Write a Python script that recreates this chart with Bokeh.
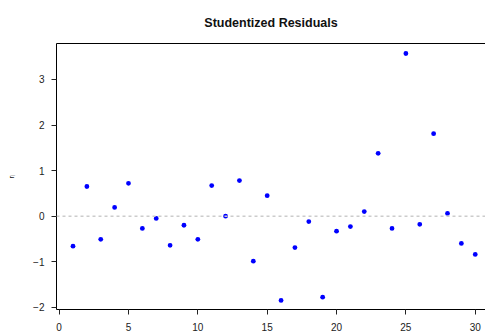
from bokeh.plotting import figure
from bokeh.models import Range1d, LinearAxis, FixedTicker, Span
from bokeh.embed import file_html
from bokeh.resources import INLINE

obs = list(range(1, 31))
resid = [-0.66, 0.65, -0.51, 0.19, 0.72, -0.27, -0.05, -0.64, -0.20, -0.51,
         0.67, 0.00, 0.78, -0.99, 0.45, -1.85, -0.69, -0.12, -1.78, -0.33,
         -0.23, 0.10, 1.38, -0.27, 3.57, -0.18, 1.81, 0.06, -0.60, -0.84]
x_ticks = [0, 5, 10, 15, 20, 25, 30]
y_ticks = [-2, -1, 0, 1, 2, 3]

FONT = "Liberation Sans"

p = figure(width=485, height=333, output_backend="svg", toolbar_location=None,
           x_range=Range1d(-0.19, 30.74), y_range=Range1d(-2.05, 3.79),
           x_axis_type=None, y_axis_type=None,
           min_border_left=56, min_border_right=0, min_border_top=43, min_border_bottom=24)
p.outline_line_color = None
p.xgrid.visible = False
p.ygrid.visible = False
p.background_fill_color = "white"
p.border_fill_color = "white"

p.title.text = "Studentized Residuals"
p.title.align = "center"
p.title.vertical_align = "top"
p.title.text_font = FONT
p.title.text_font_size = "12.5px"
p.title.text_font_style = "bold"
p.title.text_color = "#111111"
p.title.offset = 0
p.title.standoff = 23

def style_axis(ax):
    ax.axis_line_color = "black"
    ax.axis_line_width = 1
    ax.major_tick_line_color = "#222222"
    ax.major_tick_out = 5
    ax.major_tick_in = 0
    ax.minor_tick_line_color = None
    ax.major_label_text_font = FONT
    ax.major_label_text_font_size = "10px"
    ax.major_label_text_color = "#222222"

xax = LinearAxis(ticker=FixedTicker(ticks=x_ticks))
style_axis(xax)
xax.major_label_standoff = 8
p.add_layout(xax, "below")

yax = LinearAxis(ticker=FixedTicker(ticks=y_ticks))
style_axis(yax)
yax.major_label_orientation = "horizontal"
yax.major_label_standoff = 7
yax.axis_label = "rᵢ"
yax.axis_label_text_font = FONT
yax.axis_label_text_font_size = "8px"
yax.axis_label_text_font_style = "normal"
yax.axis_label_text_color = "#222222"
yax.axis_label_standoff = 14
p.add_layout(yax, "left")

top = LinearAxis(ticker=FixedTicker(ticks=[]))
top.axis_line_color = "black"
top.major_label_text_font_size = "0px"
top.major_label_standoff = 0
top.major_tick_out = 0
top.major_tick_in = 0
top.major_tick_line_color = None
top.minor_tick_line_color = None
p.add_layout(top, "above")

p.add_layout(Span(location=0, dimension="width", line_color="#cccccc",
                  line_dash="3 3", line_width=1.5))

p.scatter(obs, resid, size=4.8, fill_color="blue", line_color=None)

open("out.html", "w").write(file_html(p, INLINE))
